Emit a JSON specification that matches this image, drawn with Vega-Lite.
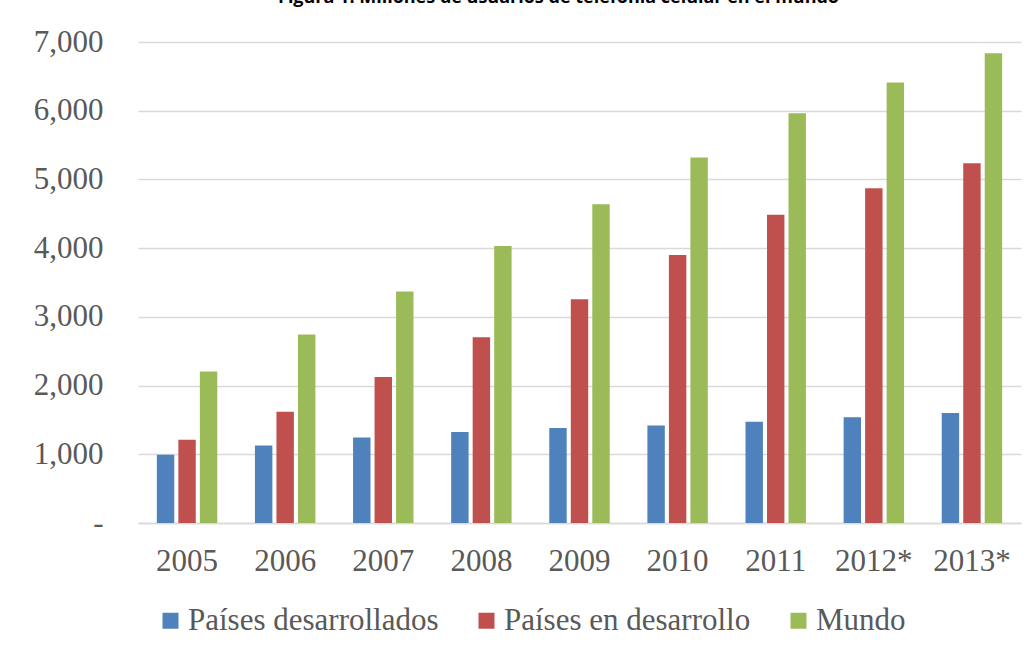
{
  "$schema": "https://vega.github.io/schema/vega-lite/v6.json",
  "autosize": {"type": "none"},
  "width": 883,
  "height": 481,
  "padding": {"left": 138, "top": 42, "right": 14, "bottom": 127},
  "background": "white",
  "title": {
    "text": "Figura 1. Millones de usuarios de telefonía celular en el mundo",
    "frame": "group",
    "anchor": "start",
    "dx": 140,
    "dy": 14,
    "offset": 19,
    "baseline": "alphabetic",
    "font": "Open Sans",
    "fontWeight": "bold",
    "fontSize": 18,
    "color": "#000000"
  },
  "data": {
    "values": [
      {"anio": "2005", "serie": "Países desarrollados", "valor": 992},
      {"anio": "2005", "serie": "Países en desarrollo", "valor": 1213},
      {"anio": "2005", "serie": "Mundo", "valor": 2205},
      {"anio": "2006", "serie": "Países desarrollados", "valor": 1127},
      {"anio": "2006", "serie": "Países en desarrollo", "valor": 1618},
      {"anio": "2006", "serie": "Mundo", "valor": 2745},
      {"anio": "2007", "serie": "Países desarrollados", "valor": 1243},
      {"anio": "2007", "serie": "Países en desarrollo", "valor": 2125},
      {"anio": "2007", "serie": "Mundo", "valor": 3368},
      {"anio": "2008", "serie": "Países desarrollados", "valor": 1325},
      {"anio": "2008", "serie": "Países en desarrollo", "valor": 2705},
      {"anio": "2008", "serie": "Mundo", "valor": 4030},
      {"anio": "2009", "serie": "Países desarrollados", "valor": 1383},
      {"anio": "2009", "serie": "Países en desarrollo", "valor": 3257},
      {"anio": "2009", "serie": "Mundo", "valor": 4640},
      {"anio": "2010", "serie": "Países desarrollados", "valor": 1418},
      {"anio": "2010", "serie": "Países en desarrollo", "valor": 3901},
      {"anio": "2010", "serie": "Mundo", "valor": 5320},
      {"anio": "2011", "serie": "Países desarrollados", "valor": 1475},
      {"anio": "2011", "serie": "Países en desarrollo", "valor": 4487},
      {"anio": "2011", "serie": "Mundo", "valor": 5962},
      {"anio": "2012*", "serie": "Países desarrollados", "valor": 1538},
      {"anio": "2012*", "serie": "Países en desarrollo", "valor": 4872},
      {"anio": "2012*", "serie": "Mundo", "valor": 6411},
      {"anio": "2013*", "serie": "Países desarrollados", "valor": 1600},
      {"anio": "2013*", "serie": "Países en desarrollo", "valor": 5235},
      {"anio": "2013*", "serie": "Mundo", "valor": 6835}
    ]
  },
  "mark": {"type": "bar"},
  "encoding": {
    "x": {
      "field": "anio",
      "type": "nominal",
      "sort": null,
      "title": null,
      "scale": {"paddingInner": 0.384, "paddingOuter": 0.192},
      "axis": {
        "labelAngle": 0,
        "ticks": false,
        "domain": true,
        "domainColor": "#D9D9D9",
        "domainWidth": 1.5,
        "labelFont": "Liberation Serif",
        "labelFontSize": 31,
        "labelColor": "#595959",
        "labelPadding": 23,
        "grid": false
      }
    },
    "xOffset": {
      "field": "serie",
      "type": "nominal",
      "sort": ["Países desarrollados", "Países en desarrollo", "Mundo"],
      "scale": {"paddingInner": 0.19, "paddingOuter": 0}
    },
    "y": {
      "field": "valor",
      "type": "quantitative",
      "title": null,
      "scale": {"domain": [0, 7000], "nice": false},
      "axis": {
        "values": [0, 1000, 2000, 3000, 4000, 5000, 6000, 7000],
        "labelExpr": "datum.value == 0 ? '-  ' : format(datum.value, ',')",
        "ticks": false,
        "domain": false,
        "grid": true,
        "gridColor": "#D9D9D9",
        "gridWidth": 1.5,
        "labelFont": "Liberation Serif",
        "labelFontSize": 31,
        "labelColor": "#595959",
        "labelPadding": 35
      }
    },
    "color": {
      "field": "serie",
      "type": "nominal",
      "title": null,
      "scale": {
        "domain": ["Países desarrollados", "Países en desarrollo", "Mundo"],
        "range": ["#4F81BD", "#C0504D", "#9BBB59"]
      },
      "legend": {
        "orient": "none",
        "legendX": 17,
        "legendY": 563,
        "padding": 0,
        "direction": "horizontal",
        "symbolType": "square",
        "symbolSize": 256,
        "symbolStrokeWidth": 0,
        "labelFont": "Liberation Serif",
        "labelFontSize": 31,
        "labelColor": "#595959",
        "labelOffset": 2,
        "columnPadding": 32,
        "labelLimit": 400
      }
    }
  },
  "config": {"view": {"stroke": null}}
}
